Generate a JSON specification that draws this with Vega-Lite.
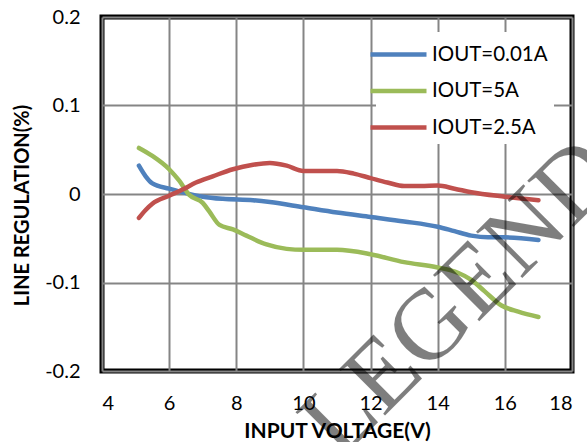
{
  "$schema": "https://vega.github.io/schema/vega-lite/v6.json",
  "autosize": {"type": "none"},
  "width": 470,
  "height": 354,
  "padding": {"left": 102, "top": 17, "right": 15, "bottom": 71},
  "background": "white",
  "config": {
    "view": {"stroke": "black", "strokeWidth": 5},
    "axis": {
      "domain": false,
      "ticks": false,
      "gridColor": "#858585",
      "gridWidth": 2,
      "gridOpacity": 1,
      "labelFont": "Lato",
      "labelFontSize": 20,
      "labelColor": "black",
      "titleFont": "Lato",
      "titleFontSize": 20,
      "titleFontWeight": "bold",
      "titleColor": "black"
    }
  },
  "datasets": {
    "curves": [
      {"v": 5.1, "reg": 0.032, "s": "IOUT=0.01A"},
      {"v": 5.3, "reg": 0.02, "s": "IOUT=0.01A"},
      {"v": 5.5, "reg": 0.012, "s": "IOUT=0.01A"},
      {"v": 6.0, "reg": 0.006, "s": "IOUT=0.01A"},
      {"v": 6.5, "reg": 0.001, "s": "IOUT=0.01A"},
      {"v": 7.0, "reg": -0.003, "s": "IOUT=0.01A"},
      {"v": 7.6, "reg": -0.0055, "s": "IOUT=0.01A"},
      {"v": 8.5, "reg": -0.007, "s": "IOUT=0.01A"},
      {"v": 9.0, "reg": -0.009, "s": "IOUT=0.01A"},
      {"v": 10.0, "reg": -0.015, "s": "IOUT=0.01A"},
      {"v": 11.0, "reg": -0.021, "s": "IOUT=0.01A"},
      {"v": 12.0, "reg": -0.026, "s": "IOUT=0.01A"},
      {"v": 13.0, "reg": -0.031, "s": "IOUT=0.01A"},
      {"v": 14.0, "reg": -0.037, "s": "IOUT=0.01A"},
      {"v": 14.5, "reg": -0.042, "s": "IOUT=0.01A"},
      {"v": 15.0, "reg": -0.047, "s": "IOUT=0.01A"},
      {"v": 15.5, "reg": -0.049, "s": "IOUT=0.01A"},
      {"v": 16.0, "reg": -0.049, "s": "IOUT=0.01A"},
      {"v": 17.0, "reg": -0.052, "s": "IOUT=0.01A"},
      {"v": 5.1, "reg": 0.052, "s": "IOUT=5A"},
      {"v": 5.5, "reg": 0.043, "s": "IOUT=5A"},
      {"v": 6.0, "reg": 0.028, "s": "IOUT=5A"},
      {"v": 6.3, "reg": 0.015, "s": "IOUT=5A"},
      {"v": 6.6, "reg": -0.001, "s": "IOUT=5A"},
      {"v": 7.0, "reg": -0.01, "s": "IOUT=5A"},
      {"v": 7.2, "reg": -0.02, "s": "IOUT=5A"},
      {"v": 7.5, "reg": -0.035, "s": "IOUT=5A"},
      {"v": 7.9, "reg": -0.04, "s": "IOUT=5A"},
      {"v": 8.3, "reg": -0.047, "s": "IOUT=5A"},
      {"v": 8.9, "reg": -0.057, "s": "IOUT=5A"},
      {"v": 9.5, "reg": -0.062, "s": "IOUT=5A"},
      {"v": 10.0, "reg": -0.063, "s": "IOUT=5A"},
      {"v": 11.0, "reg": -0.063, "s": "IOUT=5A"},
      {"v": 12.0, "reg": -0.068, "s": "IOUT=5A"},
      {"v": 13.0, "reg": -0.077, "s": "IOUT=5A"},
      {"v": 14.0, "reg": -0.083, "s": "IOUT=5A"},
      {"v": 14.6, "reg": -0.089, "s": "IOUT=5A"},
      {"v": 15.0, "reg": -0.097, "s": "IOUT=5A"},
      {"v": 15.4, "reg": -0.11, "s": "IOUT=5A"},
      {"v": 15.9, "reg": -0.126, "s": "IOUT=5A"},
      {"v": 16.4, "reg": -0.133, "s": "IOUT=5A"},
      {"v": 17.0, "reg": -0.139, "s": "IOUT=5A"},
      {"v": 5.1, "reg": -0.027, "s": "IOUT=2.5A"},
      {"v": 5.3, "reg": -0.018, "s": "IOUT=2.5A"},
      {"v": 5.5, "reg": -0.011, "s": "IOUT=2.5A"},
      {"v": 6.0, "reg": -0.002, "s": "IOUT=2.5A"},
      {"v": 6.4, "reg": 0.005, "s": "IOUT=2.5A"},
      {"v": 6.8, "reg": 0.013, "s": "IOUT=2.5A"},
      {"v": 7.3, "reg": 0.02, "s": "IOUT=2.5A"},
      {"v": 7.9, "reg": 0.028, "s": "IOUT=2.5A"},
      {"v": 8.5, "reg": 0.033, "s": "IOUT=2.5A"},
      {"v": 9.0, "reg": 0.035, "s": "IOUT=2.5A"},
      {"v": 9.5, "reg": 0.032, "s": "IOUT=2.5A"},
      {"v": 10.0, "reg": 0.026, "s": "IOUT=2.5A"},
      {"v": 10.5, "reg": 0.026, "s": "IOUT=2.5A"},
      {"v": 11.0, "reg": 0.026, "s": "IOUT=2.5A"},
      {"v": 11.5, "reg": 0.023, "s": "IOUT=2.5A"},
      {"v": 12.0, "reg": 0.018, "s": "IOUT=2.5A"},
      {"v": 12.5, "reg": 0.013, "s": "IOUT=2.5A"},
      {"v": 13.0, "reg": 0.009, "s": "IOUT=2.5A"},
      {"v": 13.5, "reg": 0.009, "s": "IOUT=2.5A"},
      {"v": 14.0, "reg": 0.0095, "s": "IOUT=2.5A"},
      {"v": 14.5, "reg": 0.006, "s": "IOUT=2.5A"},
      {"v": 15.0, "reg": 0.002, "s": "IOUT=2.5A"},
      {"v": 16.0, "reg": -0.003, "s": "IOUT=2.5A"},
      {"v": 17.0, "reg": -0.007, "s": "IOUT=2.5A"}
    ],
    "mark": [
      {"v": 14.66, "reg": -0.1175, "t": "LEGEND"}
    ]
  },
  "layer": [
    {
      "data": {"name": "curves"},
      "mark": {"type": "line", "interpolate": "monotone", "strokeWidth": 4.5, "strokeCap": "round", "strokeJoin": "round"},
      "encoding": {
        "x": {
          "field": "v", "type": "quantitative",
          "scale": {"domain": [4, 18], "nice": false, "zero": false},
          "axis": {"values": [4, 6, 8, 10, 12, 14, 16, 18], "title": "INPUT VOLTAGE(V)", "titleFontSize": 21, "labelPadding": 22, "titleBaseline": "alphabetic", "titleY": 66}
        },
        "y": {
          "field": "reg", "type": "quantitative",
          "scale": {"domain": [-0.2, 0.2], "nice": false, "zero": false},
          "axis": {"values": [-0.2, -0.1, 0, 0.1, 0.2], "labelExpr": "toString(round(datum.value*10)/10)", "title": "LINE REGULATION(%)", "labelPadding": 22, "titleX": -80, "titleY": 188, "titleBaseline": "middle", "titleAngle": -90}
        },
        "color": {
          "field": "s", "type": "nominal", "sort": null,
          "scale": {"domain": ["IOUT=0.01A", "IOUT=5A", "IOUT=2.5A"], "range": ["#4F81BD", "#9BBB59", "#C0504D"]},
          "legend": {
            "orient": "none", "legendX": 274, "legendY": 15, "title": null,
            "symbolType": "M-2,0H2", "symbolSize": 784, "symbolStrokeWidth": 4.5,
            "labelOffset": 17, "labelFont": "Lato", "labelFontSize": 20.5, "labelColor": "black", "labelLimit": 300,
            "rowPadding": 9.5, "fillColor": "white", "padding": 6
          }
        }
      }
    },
    {
      "data": {"name": "mark"},
      "mark": {"type": "text", "font": "Liberation Serif", "fontSize": 100, "angle": -45, "align": "center", "baseline": "middle", "fill": "black", "opacity": 0.5},
      "encoding": {
        "x": {"field": "v", "type": "quantitative"},
        "y": {"field": "reg", "type": "quantitative"},
        "text": {"field": "t"}
      }
    }
  ]
}
